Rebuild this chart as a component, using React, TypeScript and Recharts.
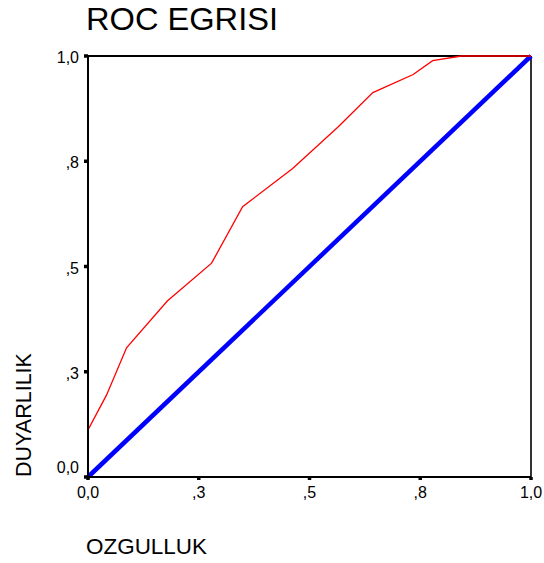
import React from 'react';
import { LineChart, Line, XAxis, YAxis, ReferenceLine } from 'recharts';

// ROC curve: x = 1 - specificity (OZGULLUK axis), y = sensitivity (DUYARLILIK)
const rocX = [0, 0, 0.042, 0.087, 0.179, 0.279, 0.349, 0.462, 0.565, 0.643, 0.734, 0.778, 0.843, 1];
const rocY = [0, 0.112, 0.195, 0.307, 0.418, 0.508, 0.642, 0.733, 0.832, 0.913, 0.956, 0.989, 1, 1];
// Reference (chance) diagonal
const diagX = [0, 1];
const diagY = [0, 1];

const tickValues = [0, 0.25, 0.5, 0.75, 1];
const xTickLabels = ['0,0', ',3', ',5', ',8', '1,0'];
const yTickLabels = ['0,0', ',3', ',5', ',8', '1,0'];

const rocData = rocX.map((x, i) => ({ x, y: rocY[i] }));
const diagData = diagX.map((x, i) => ({ x, y: diagY[i] }));

const FONT = '"Liberation Sans", Arial, Helvetica, sans-serif';

const YTick = (props: any) => {
  const { x, y, payload, index } = props;
  const idx = tickValues.indexOf(payload.value);
  const label = idx >= 0 ? yTickLabels[idx] : String(payload.value);
  const shift = index === 0 || payload.value === 0 ? -4 : 7;
  return (
    <text x={x} y={y + shift} textAnchor="end" fontSize={16} fontFamily={FONT} fill="#000">
      {label}
    </text>
  );
};

const XTick = (props: any) => {
  const { x, y, payload } = props;
  const idx = tickValues.indexOf(payload.value);
  const label = idx >= 0 ? xTickLabels[idx] : String(payload.value);
  return (
    <text x={x} y={y + 11.5} textAnchor="middle" fontSize={16} fontFamily={FONT} fill="#000">
      {label}
    </text>
  );
};

export default function App() {
  return (
    <div style={{ position: 'absolute', left: 0, top: 0, width: 544, height: 563, background: '#fff' }}>
      <LineChart
        width={544}
        height={563}
        margin={{ top: 56, right: 13, bottom: 56, left: 28 }}
      >
        <XAxis
          dataKey="x"
          type="number"
          domain={[0, 1]}
          ticks={tickValues}
          allowDuplicatedCategory={false}
          height={30}
          axisLine={{ stroke: '#000', strokeWidth: 2 }}
          tickLine={{ stroke: '#000', strokeWidth: 3.5 }}
          tickSize={3}
          tickMargin={6}
          tick={<XTick />}
          interval={0}
        />
        <YAxis
          dataKey="y"
          type="number"
          domain={[0, 1]}
          ticks={tickValues}
          width={60}
          axisLine={{ stroke: '#000', strokeWidth: 2 }}
          tickLine={{ stroke: '#000', strokeWidth: 3.5 }}
          tickSize={4}
          tickMargin={5}
          tick={<YTick />}
          interval={0}
        />
        <ReferenceLine y={1} stroke="#000" strokeWidth={2} />
        <ReferenceLine x={1} stroke="#333" strokeWidth={2} />
        <Line
          data={diagData}
          dataKey="y"
          type="linear"
          stroke="#0000ff"
          strokeWidth={4.5}
          dot={false}
          activeDot={false}
          isAnimationActive={false}
        />
        <Line
          data={rocData}
          dataKey="y"
          type="linear"
          stroke="#ff0000"
          strokeWidth={1.3}
          dot={false}
          activeDot={false}
          isAnimationActive={false}
        />
      </LineChart>
      <svg
        width={544}
        height={563}
        style={{ position: 'absolute', left: 0, top: 0, pointerEvents: 'none' }}
      >
        <text x={86} y={30} fontSize={31} fontFamily={FONT} fill="#000" textLength={192} lengthAdjust="spacingAndGlyphs">
          ROC EGRISI
        </text>
        <text x={86} y={554} fontSize={22} fontFamily={FONT} fill="#000" textLength={121} lengthAdjust="spacingAndGlyphs">
          OZGULLUK
        </text>
        <text
          transform="translate(30.5, 415) rotate(-90)"
          textAnchor="middle"
          fontSize={21.5}
          fontFamily={FONT}
          fill="#000"
        >
          DUYARLILIK
        </text>
      </svg>
    </div>
  );
}
